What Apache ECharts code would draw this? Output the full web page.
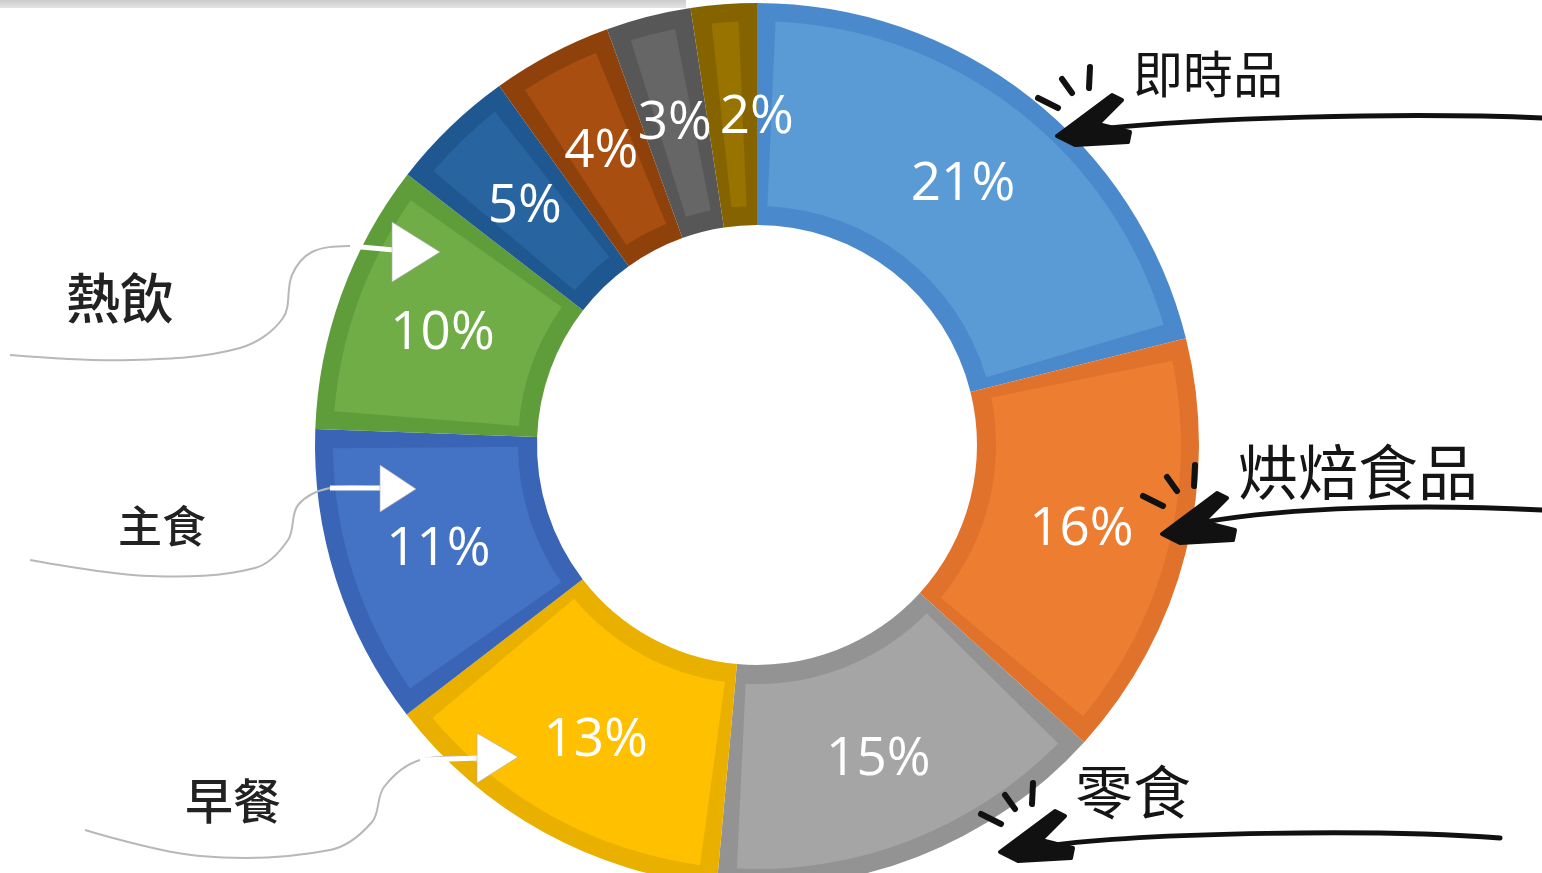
<!DOCTYPE html>
<html><head><meta charset="utf-8">
<script src="https://cdn.jsdelivr.net/npm/echarts@6/dist/echarts.min.js"></script>
<style>html,body{margin:0;padding:0;background:#fff;}#c{width:1542px;height:873px;}</style>
</head><body><div id="c"></div>
<script>
// ---- data (shares; labels show the rounded percent) ----
const categories = ['即時品', '烘焙食品', '零食', '早餐', '主食', '熱飲', '', '', '', ''];
const shares = [21.1, 15.6, 14.7, 13.1, 11.0, 9.9, 4.6, 4.4, 3.1, 2.4];
const fillColors = ['#5b9bd5', '#ed7d31', '#a5a5a5', '#ffc000', '#4472c4', '#70ad47', '#2864a0', '#a84e10', '#666666', '#997300'];
const edgeColors = ['#4a89cc', '#e0722b', '#939393', '#eab000', '#3a64b5', '#5f9c3a', '#1f5890', '#8f410b', '#575757', '#856400'];

// ---- annotations ----
const graphic = [];
graphic.push({
  type: 'rect', z: 100, shape: { x: 0, y: 0, width: 686, height: 8 },
  style: { fill: { type: 'linear', x: 0, y: 0, x2: 0, y2: 1, colorStops: [{ offset: 0, color: '#cccccc' }, { offset: 1, color: '#e4e4e4' }] } }
});

const blackNotes = [
  { idx: 0, tx: 1133, ty: 74, fs: 50, line: [1542, 118, 1400, 112, 1200, 118, 1100, 129], tip: [1057, 135] },
  { idx: 1, tx: 1238, ty: 472, fs: 60, line: [1542, 510, 1420, 504, 1290, 507, 1205, 522], tip: [1162, 533] },
  { idx: 2, tx: 1075, ty: 792, fs: 58, line: [1500, 838, 1380, 829, 1150, 832, 1045, 846], tip: [1000, 851] }
];
const headRel = [[0, 1], [55, -40], [65, -35], [41, -11], [73, -3], [71, 7], [18, 10]];
const sparkRel = [[-19, -37, 1, -27], [5, -56, 15, -42], [33, -68, 32, -47]];
blackNotes.forEach(n => {
  graphic.push({
    type: 'text', z: 101, x: n.tx, y: n.ty,
    style: { text: categories[n.idx], font: '400 ' + n.fs + 'px "Noto Sans CJK TC"', fill: '#151515', align: 'left', verticalAlign: 'middle' }
  });
  const l = n.line;
  graphic.push({
    type: 'bezierCurve', z: 101,
    shape: { x1: l[0], y1: l[1], cpx1: l[2], cpy1: l[3], cpx2: l[4], cpy2: l[5], x2: l[6], y2: l[7] },
    style: { stroke: '#111', lineWidth: 5, lineCap: 'round', fill: null }
  });
  graphic.push({
    type: 'polygon', z: 101,
    shape: { points: headRel.map(p => [n.tip[0] + p[0], n.tip[1] + p[1]]) },
    style: { fill: '#111', stroke: '#111', lineWidth: 4, lineJoin: 'round' }
  });
  sparkRel.forEach(s => graphic.push({
    type: 'line', z: 101,
    shape: { x1: n.tip[0] + s[0], y1: n.tip[1] + s[1], x2: n.tip[0] + s[2], y2: n.tip[1] + s[3] },
    style: { stroke: '#111', lineWidth: 6, lineCap: 'round' }
  }));
});

const whiteNotes = [
  { idx: 5, tx: 120, ty: 298, fs: 54, pts: [[10, 355], [130, 360], [240, 348], [283, 318], [292, 275], [312, 252], [350, 246], [394, 250]], head: [[392, 222], [440, 252], [392, 282]] },
  { idx: 4, tx: 162, ty: 526, fs: 44, pts: [[30, 560], [150, 576], [255, 568], [288, 540], [298, 505], [330, 488], [382, 488]], head: [[380, 465], [416, 489], [380, 512]] },
  { idx: 3, tx: 233, ty: 801, fs: 48, pts: [[85, 830], [200, 856], [330, 850], [372, 822], [384, 787], [420, 760], [480, 758]], head: [[477, 733], [518, 757], [477, 783]] }
];
whiteNotes.forEach(n => {
  graphic.push({
    type: 'text', z: 101, x: n.tx, y: n.ty,
    style: { text: categories[n.idx], font: '500 ' + n.fs + 'px "Noto Sans CJK TC"', fill: '#222', align: 'center', verticalAlign: 'middle' }
  });
  graphic.push({
    type: 'polyline', z: 101, shape: { points: n.pts, smooth: 0.35 },
    style: { stroke: '#b8b8b8', lineWidth: 2, fill: null }
  });
  graphic.push({
    type: 'polyline', z: 102, shape: { points: n.pts.slice(-2) },
    style: { stroke: '#ffffff', lineWidth: 5, fill: null }
  });
  graphic.push({
    type: 'polygon', z: 103, shape: { points: n.head },
    style: { fill: '#ffffff', stroke: 'rgba(170,170,170,0.6)', lineWidth: 1 }
  });
});

const chart = echarts.init(document.getElementById('c'), null, { renderer: 'canvas' });
chart.setOption({
  animation: false,
  backgroundColor: '#ffffff',
  graphic: graphic,
  series: [
    {
      type: 'pie', radius: [220, 442], center: [757, 445], startAngle: 90, clockwise: true,
      silent: true, avoidLabelOverlap: false,
      label: { show: false }, labelLine: { show: false },
      emphasis: { disabled: true },
      itemStyle: { borderWidth: 0 },
      data: shares.map((v, i) => ({ value: v, name: categories[i], itemStyle: { color: edgeColors[i] } }))
    },
    {
      type: 'pie', radius: [239, 424], center: [757, 445], startAngle: 90, clockwise: true,
      padAngle: 5, silent: true, avoidLabelOverlap: false,
      labelLine: { show: false },
      labelLayout: { hideOverlap: false },
      emphasis: { disabled: true },
      itemStyle: { borderWidth: 0 },
      label: {
        show: true, position: 'inside', formatter: p => Math.round(p.value) + '%', offset: [0, 3],
        color: '#ffffff', fontSize: 53, fontFamily: '"Open Sans"', fontWeight: 400,
        textBorderWidth: 0, textShadowBlur: 0
      },
      data: shares.map((v, i) => ({
        value: v, name: categories[i], itemStyle: { color: fillColors[i] },
        // the last (narrowest) label is nudged right, as in the original, to clear its neighbour
        label: i === shares.length - 1 ? { offset: [25, 6] } : undefined
      }))
    }
  ]
});
</script></body></html>
